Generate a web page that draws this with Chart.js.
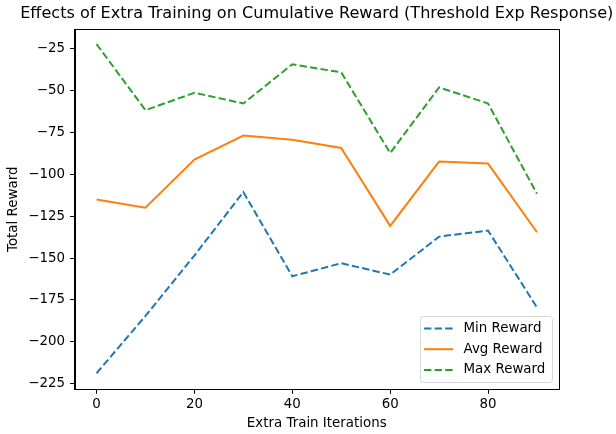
<!DOCTYPE html>
<html>
<head>
<meta charset="utf-8">
<script src="https://cdn.jsdelivr.net/npm/chart.js@4.4.1/dist/chart.umd.min.js"></script>
<style>
  html, body { margin: 0; padding: 0; background: #fff; }
  #wrap { width: 616px; height: 434px; position: relative; }
</style>
</head>
<body>
<div id="wrap"><canvas id="c" width="616" height="434"></canvas></div>
<script>
const iterations = [0, 10, 20, 30, 40, 50, 60, 70, 80, 90];
const minReward = [-218.8, -184.6, -148.5, -110.6, -160.9, -153.1, -159.9, -137.2, -133.6, -179.5];
const avgReward = [-115.0, -120.0, -91.2, -76.9, -79.3, -84.3, -130.8, -92.4, -93.6, -134.6];
const maxReward = [-22.2, -61.7, -51.3, -57.7, -34.3, -39.1, -87.3, -48.1, -57.7, -111.6];
const xTicks = [0, 20, 40, 60, 80];
const yTicks = [-225, -200, -175, -150, -125, -100, -75, -50, -25];

const titleText = 'Effects of Extra Training on Cumulative Reward (Threshold Exp Response)';
const xLabel = 'Extra Train Iterations';
const yLabel = 'Total Reward';

const FONT = '"DejaVu Sans", sans-serif';
const LBL = 13.4;
const toPts = arr => arr.map((v, i) => ({ x: iterations[i], y: v }));

const decor = {
  id: 'decor',
  afterDraw(chart) {
    const ctx = chart.ctx;
    const a = chart.chartArea;
    ctx.save();
    // frame
    ctx.strokeStyle = '#000';
    ctx.lineWidth = 1;
    ctx.strokeRect(Math.round(a.left) + 0.5, Math.round(a.top) + 0.5,
                   Math.round(a.right) - Math.round(a.left), Math.round(a.bottom) - Math.round(a.top));
    // title
    ctx.fillStyle = '#000';
    ctx.font = '16.1px ' + FONT;
    ctx.textAlign = 'center';
    ctx.textBaseline = 'middle';
    ctx.fillText(titleText, (a.left + a.right) / 2, 13.5);
    // axis labels
    ctx.font = LBL + 'px ' + FONT;
    ctx.fillText(xLabel, (a.left + a.right) / 2, 423.5);
    ctx.save();
    ctx.translate(13.8, (a.top + a.bottom) / 2);
    ctx.rotate(-Math.PI / 2);
    ctx.fillText(yLabel, 0, 0);
    ctx.restore();
    // legend
    const lx = 420.5, ly = 316.5, lw = 132, lh = 66;
    ctx.fillStyle = 'rgba(255,255,255,0.8)';
    ctx.strokeStyle = '#d6d6d6';
    ctx.lineWidth = 1;
    ctx.beginPath();
    ctx.roundRect(lx, ly, lw, lh, 3);
    ctx.fill();
    ctx.stroke();
    const rows = [328.5, 349.2, 369.9];
    chart.data.datasets.forEach((ds, i) => {
      ctx.strokeStyle = ds.borderColor;
      ctx.lineWidth = ds.borderWidth;
      ctx.setLineDash(ds.borderDash || []);
      ctx.beginPath();
      ctx.moveTo(424, rows[i]);
      ctx.lineTo(453, rows[i]);
      ctx.stroke();
      ctx.setLineDash([]);
      ctx.fillStyle = '#000';
      ctx.font = LBL + 'px ' + FONT;
      ctx.textAlign = 'left';
      ctx.textBaseline = 'middle';
      ctx.fillText(ds.label, 463.5, rows[i]);
    });
    ctx.restore();
  }
};

const dash = [7.4, 3.2];
new Chart(document.getElementById('c'), {
  type: 'line',
  data: {
    datasets: [
      { label: 'Min Reward', data: toPts(minReward), borderColor: '#1f77b4', borderWidth: 2, borderDash: dash, pointRadius: 0, fill: false, tension: 0 },
      { label: 'Avg Reward', data: toPts(avgReward), borderColor: '#ff7f0e', borderWidth: 2, pointRadius: 0, fill: false, tension: 0 },
      { label: 'Max Reward', data: toPts(maxReward), borderColor: '#2ca02c', borderWidth: 2, borderDash: dash, pointRadius: 0, fill: false, tension: 0 }
    ]
  },
  options: {
    responsive: false,
    animation: false,
    events: [],
    layout: { padding: { top: 29.3, right: 57, left: 0, bottom: 0 } },
    plugins: { legend: { display: false }, title: { display: false }, tooltip: { enabled: false } },
    scales: {
      x: {
        type: 'linear',
        min: -4.5, max: 94.5,
        afterFit: s => { s.height = 44.7; },
        afterBuildTicks: s => { s.ticks = xTicks.map(v => ({ value: v })); },
        grid: { drawOnChartArea: false, drawTicks: true, tickLength: 4.5, color: '#000' },
        border: { display: true, color: '#000' },
        ticks: { color: '#000', font: { family: FONT, size: LBL }, padding: 3, maxRotation: 0, autoSkip: false,
                 callback: v => String(v).replace('-', '\u2212') }
      },
      y: {
        type: 'linear',
        min: -228.4, max: -13.4,
        afterFit: s => { s.width = 74.5; },
        afterBuildTicks: s => { s.ticks = yTicks.map(v => ({ value: v })); },
        grid: { drawOnChartArea: false, drawTicks: true, tickLength: 4.5, color: '#000' },
        border: { display: true, color: '#000' },
        ticks: { color: '#000', font: { family: FONT, size: LBL }, padding: 5, autoSkip: false,
                 callback: v => String(v).replace('-', '\u2212') }
      }
    }
  },
  plugins: [decor]
});
</script>
</body>
</html>
